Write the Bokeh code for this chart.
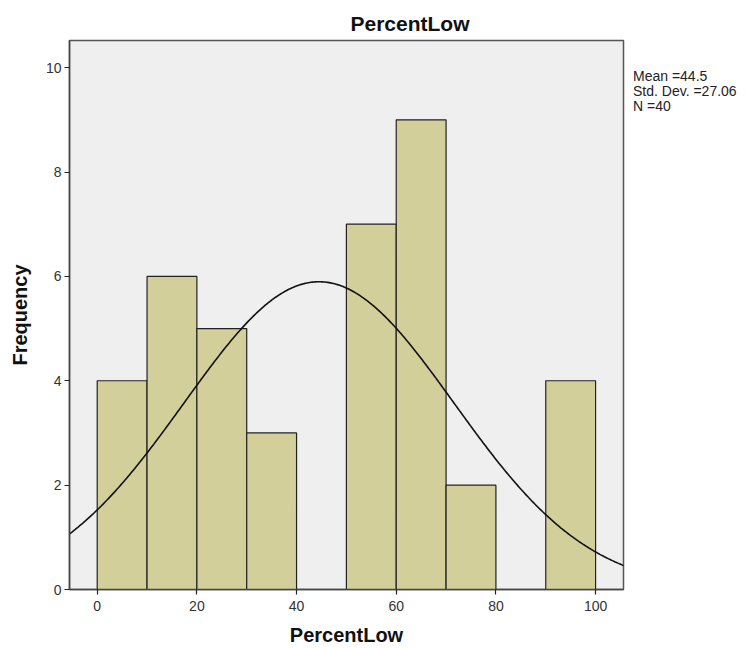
import numpy as np
from bokeh.plotting import figure
from bokeh.models import Range1d, FixedTicker, ColumnDataSource, Div
from bokeh.layouts import row
from bokeh.embed import file_html
from bokeh.resources import INLINE

# Data
bin_left = [0, 10, 20, 30, 40, 50, 60, 70, 80, 90]
bin_width = 10
counts = [4, 6, 5, 3, 0, 7, 9, 2, 0, 4]
mean_val = 44.5
std_val = 27.06
n_val = 40
x_ticks = [0, 20, 40, 60, 80, 100]
y_ticks = [0, 2, 4, 6, 8, 10]

FONT = "Liberation Sans"

p = figure(width=628, height=648, output_backend="svg", toolbar_location=None,
           x_range=Range1d(-5.56, 105.6), y_range=Range1d(0, 10.52),
           min_border_left=69, min_border_right=5, min_border_top=40, min_border_bottom=59)

p.title.text = "PercentLow"
p.title.align = "left"
p.title.offset = 281
p.title.text_font = FONT
p.title.text_font_size = "21px"
p.title.text_font_style = "bold"
p.title.text_color = "#111111"
p.title.standoff = 11

p.background_fill_color = "#efefef"
p.border_fill_color = "white"
p.outline_line_color = "#555555"
p.outline_line_width = 1.5
p.xgrid.visible = False
p.ygrid.visible = False

src = ColumnDataSource(dict(
    left=[l for l, c in zip(bin_left, counts) if c > 0],
    right=[l + bin_width for l, c in zip(bin_left, counts) if c > 0],
    top=[c for c in counts if c > 0],
))
p.quad(left="left", right="right", bottom=0, top="top", source=src,
       fill_color="#d3cf9b", line_color="#222222", line_width=1.2)

xs = np.linspace(-5.56, 105.6, 400)
ys = n_val * bin_width / (std_val * np.sqrt(2 * np.pi)) * np.exp(-0.5 * ((xs - mean_val) / std_val) ** 2)
p.line(xs, ys, line_color="#111111", line_width=1.6)

for ax in (p.xaxis[0], p.yaxis[0]):
    ax.axis_line_color = "#444444"
    ax.axis_line_width = 1.5
    ax.major_tick_line_color = "#222222"
    ax.major_tick_line_width = 1.2
    ax.major_tick_out = 5
    ax.major_tick_in = 0
    ax.minor_tick_line_color = None
    ax.major_label_text_font = FONT
    ax.major_label_text_font_size = "14px"
    ax.major_label_text_color = "#333333"
    ax.axis_label_text_font = FONT
    ax.axis_label_text_font_size = "20px"
    ax.axis_label_text_font_style = "bold"
    ax.axis_label_text_color = "#111111"

p.xaxis[0].ticker = FixedTicker(ticks=x_ticks)
p.yaxis[0].ticker = FixedTicker(ticks=y_ticks)
p.xaxis[0].axis_label = "PercentLow"
p.yaxis[0].axis_label = "Frequency"
p.xaxis[0].major_label_standoff = 6
p.yaxis[0].major_label_standoff = 3
p.xaxis[0].axis_label_standoff = 10
p.yaxis[0].axis_label_standoff = 12

stats_lines = ["Mean =%s" % mean_val, "Std. Dev. =%.2f" % std_val, "N =%d" % n_val]
div = Div(text="<br>".join(stats_lines), width=118, height=648, margin=(0, 0, 0, 0),
          styles={"font-family": FONT, "font-size": "14px", "line-height": "15px",
                  "color": "#222222", "padding-top": "69px", "padding-left": "5px",
                  "white-space": "nowrap"})

layout = row(p, div, spacing=0)
open("out.html", "w").write(file_html(layout, INLINE))
